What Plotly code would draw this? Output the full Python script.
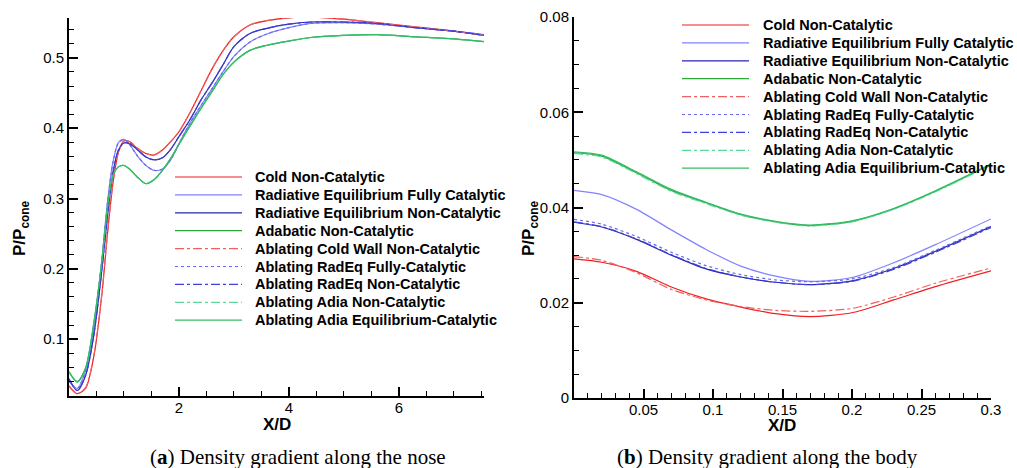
import plotly.graph_objects as go

W, H = 1017, 468

# ---------------- data: panel (a) nose ----------------
x_nose = [0, 0.15, 0.3, 0.45, 0.6, 0.7, 0.8, 0.9, 1.0, 1.1, 1.25, 1.4, 1.55, 1.7, 1.85,
          2.0, 2.2, 2.4, 2.6, 2.8, 3.0, 3.3, 3.6, 4.0, 4.4, 5.0, 5.6, 6.3, 7.0, 7.55]
cold_nose = [0.033, 0.0225, 0.030, 0.075, 0.165, 0.250, 0.322, 0.366, 0.382, 0.381, 0.371, 0.364,
             0.362, 0.369, 0.381, 0.395, 0.422, 0.453, 0.484, 0.510, 0.530, 0.547, 0.553, 0.557,
             0.558, 0.555, 0.550, 0.544, 0.538, 0.532]
radeq_fc_nose = [0.040, 0.030, 0.055, 0.115, 0.215, 0.295, 0.352, 0.380, 0.384, 0.377, 0.360,
                 0.347, 0.340, 0.342, 0.355, 0.378, 0.407, 0.432, 0.456, 0.480, 0.502, 0.523,
                 0.534, 0.543, 0.549, 0.550, 0.548, 0.543, 0.538, 0.533]
radeq_nc_nose = [0.043, 0.027, 0.048, 0.105, 0.200, 0.275, 0.337, 0.369, 0.379, 0.378, 0.369,
                 0.359, 0.355, 0.358, 0.370, 0.388, 0.412, 0.440, 0.464, 0.490, 0.516, 0.535,
                 0.542, 0.548, 0.551, 0.551, 0.549, 0.543, 0.538, 0.532]
adia_nose = [0.053, 0.039, 0.058, 0.122, 0.212, 0.288, 0.333, 0.345, 0.347, 0.342, 0.330, 0.321,
             0.327, 0.340, 0.357, 0.377, 0.403, 0.428, 0.452, 0.476, 0.494, 0.511, 0.518, 0.524,
             0.529, 0.532, 0.533, 0.530, 0.527, 0.523]
abl_cold_nose = [0.034, 0.023, 0.031, 0.076, 0.166, 0.251, 0.322, 0.366, 0.382, 0.381, 0.371,
                 0.364, 0.362, 0.369, 0.381, 0.395, 0.422, 0.453, 0.484, 0.510, 0.530, 0.547,
                 0.553, 0.557, 0.558, 0.555, 0.550, 0.544, 0.538, 0.532]
abl_radeq_fc_nose = [0.041, 0.030, 0.055, 0.115, 0.214, 0.294, 0.351, 0.379, 0.384, 0.377, 0.360,
                     0.347, 0.340, 0.342, 0.355, 0.378, 0.407, 0.432, 0.456, 0.480, 0.502, 0.523,
                     0.534, 0.543, 0.549, 0.550, 0.548, 0.543, 0.538, 0.533]
abl_radeq_nc_nose = [0.044, 0.027, 0.048, 0.105, 0.200, 0.275, 0.337, 0.369, 0.379, 0.378, 0.369,
                     0.359, 0.355, 0.358, 0.370, 0.388, 0.412, 0.440, 0.464, 0.490, 0.516, 0.535,
                     0.542, 0.548, 0.551, 0.551, 0.549, 0.543, 0.538, 0.532]
abl_adia_nc_nose = [0.053, 0.039, 0.058, 0.122, 0.212, 0.288, 0.333, 0.345, 0.347, 0.342, 0.330,
                    0.321, 0.327, 0.340, 0.357, 0.377, 0.403, 0.428, 0.452, 0.476, 0.494, 0.511,
                    0.518, 0.524, 0.529, 0.532, 0.533, 0.530, 0.527, 0.523]
abl_adia_eq_nose = [0.054, 0.040, 0.059, 0.122, 0.212, 0.288, 0.333, 0.345, 0.347, 0.342, 0.330,
                    0.321, 0.327, 0.340, 0.357, 0.377, 0.403, 0.428, 0.452, 0.476, 0.494, 0.511,
                    0.518, 0.524, 0.529, 0.532, 0.533, 0.530, 0.527, 0.523]

# ---------------- data: panel (b) body ----------------
x_body = [0, 0.02, 0.045, 0.07, 0.095, 0.12, 0.145, 0.17, 0.2, 0.23, 0.26, 0.3]
cold_body = [0.0292, 0.0285, 0.0266, 0.0233, 0.0208, 0.0191, 0.0177, 0.0171, 0.0179, 0.0206, 0.0234, 0.0267]
radeq_fc_body = [0.0436, 0.0427, 0.0396, 0.0353, 0.0312, 0.0277, 0.0256, 0.0245, 0.0253, 0.0284, 0.0322, 0.0376]
radeq_nc_body = [0.0369, 0.0359, 0.0333, 0.0300, 0.0271, 0.0254, 0.0243, 0.0238, 0.0246, 0.0272, 0.0308, 0.0360]
adia_body = [0.0515, 0.0508, 0.0473, 0.0436, 0.0410, 0.0385, 0.0370, 0.0362, 0.0371, 0.0397, 0.0434, 0.0490]
abl_cold_body = [0.0297, 0.0289, 0.0263, 0.0228, 0.0206, 0.0192, 0.0184, 0.0182, 0.0188, 0.0212, 0.0241, 0.0273]
abl_radeq_fc_body = [0.0375, 0.0365, 0.0339, 0.0306, 0.0278, 0.0259, 0.0248, 0.0244, 0.0250, 0.0274, 0.0310, 0.0362]
abl_radeq_nc_body = [0.0370, 0.0360, 0.0334, 0.0301, 0.0272, 0.0254, 0.0243, 0.0238, 0.0245, 0.0270, 0.0306, 0.0358]
abl_adia_nc_body = [0.0513, 0.0506, 0.0471, 0.0434, 0.0408, 0.0384, 0.0369, 0.0361, 0.0370, 0.0396, 0.0433, 0.0489]
abl_adia_eq_body = [0.0517, 0.0510, 0.0475, 0.0438, 0.0411, 0.0386, 0.0371, 0.0363, 0.0372, 0.0398, 0.0435, 0.0491]

names = ["Cold Non-Catalytic", "Radiative Equilibrium Fully Catalytic",
         "Radiative Equilibrium Non-Catalytic", "Adabatic Non-Catalytic",
         "Ablating Cold Wall Non-Catalytic", "Ablating RadEq Fully-Catalytic",
         "Ablating RadEq Non-Catalytic", "Ablating Adia Non-Catalytic",
         "Ablating Adia Equilibrium-Catalytic"]
colors = ["#f01e1e", "#8282ff", "#2626b0", "#2aa83a", "#f06060", "#6a6aee", "#4040d8", "#5ad898", "#35bb66"]
dashes = ["solid", "solid", "solid", "solid", "dashdot", "dot", "dashdot", "dashdot", "solid"]

nose_series = [cold_nose, radeq_fc_nose, radeq_nc_nose, adia_nose, abl_cold_nose,
               abl_radeq_fc_nose, abl_radeq_nc_nose, abl_adia_nc_nose, abl_adia_eq_nose]
body_series = [cold_body, radeq_fc_body, radeq_nc_body, adia_body, abl_cold_body,
               abl_radeq_fc_body, abl_radeq_nc_body, abl_adia_nc_body, abl_adia_eq_body]

fig = go.Figure()
for i, (n, ys) in enumerate(zip(names, nose_series)):
    fig.add_trace(go.Scatter(x=x_nose, y=ys, mode="lines", name=n, showlegend=False,
                             line=dict(color=colors[i], width=1.2, dash=dashes[i], shape="spline", smoothing=0.8),
                             xaxis="x", yaxis="y"))
for i, (n, ys) in enumerate(zip(names, body_series)):
    fig.add_trace(go.Scatter(x=x_body, y=ys, mode="lines", name=n, showlegend=False,
                             line=dict(color=colors[i], width=1.2, dash=dashes[i], shape="spline", smoothing=0.7),
                             xaxis="x2", yaxis="y2"))

def px_x(p):
    return p / W

def px_y(p):
    return (H - p) / H

tickfont = dict(family="Liberation Sans, Arial", size=15, color="black")
common = dict(showgrid=False, zeroline=False, showline=True, linecolor="black", linewidth=2,
              ticks="inside", ticklen=9, tickwidth=2, tickcolor="black", tickfont=tickfont,
              automargin=False)
minor_kw = dict(ticks="inside", ticklen=5, tickwidth=1, tickcolor="black")

fig.update_layout(
    width=W, height=H, margin=dict(l=0, r=0, t=0, b=0),
    paper_bgcolor="white", plot_bgcolor="white", showlegend=False,
    xaxis=dict(domain=[px_x(69), px_x(484)], range=[0, 7.55], tickvals=[2, 4, 6],
               minor=dict(dtick=0.5, tick0=0, **minor_kw), ticklabelstandoff=-3,
               anchor="y", **common),
    yaxis=dict(domain=[px_y(396), px_y(18)], range=[0.0192, 0.5567], tickvals=[0.1, 0.2, 0.3, 0.4, 0.5],
               minor=dict(dtick=0.02, tick0=0, **minor_kw),
               anchor="x", **common),
    xaxis2=dict(domain=[px_x(574), px_x(991)], range=[0, 0.3],
                tickvals=[0.05, 0.1, 0.15, 0.2, 0.25, 0.3],
                ticktext=["0.05", "0.1", "0.15", "0.2", "0.25", "0.3"],
                minor=dict(dtick=0.01, tick0=0, **minor_kw), ticklabelstandoff=-3,
                anchor="y2", **common),
    yaxis2=dict(domain=[px_y(398), px_y(17)], range=[0, 0.08],
                tickvals=[0, 0.02, 0.04, 0.06, 0.08], ticktext=["0", "0.02", "0.04", "0.06", "0.08"],
                minor=dict(dtick=0.005, tick0=0, **minor_kw),
                anchor="x2", **common),
)

annotations = []
shapes = []
titlefont = dict(family="Liberation Sans, Arial", size=17, color="black")
# axis titles
annotations.append(dict(text="<b>X/D</b>", x=px_x(277), y=px_y(424), xref="paper", yref="paper",
                        showarrow=False, font=titlefont, xanchor="center", yanchor="middle"))
annotations.append(dict(text="<b>X/D</b>", x=px_x(782), y=px_y(425), xref="paper", yref="paper",
                        showarrow=False, font=titlefont, xanchor="center", yanchor="middle"))
annotations.append(dict(text="<b>P/P<sub>cone</sub></b>", x=px_x(21), y=px_y(228), xref="paper", yref="paper",
                        showarrow=False, font=titlefont, textangle=-90, xanchor="center", yanchor="middle"))
annotations.append(dict(text="<b>P/P<sub>cone</sub></b>", x=px_x(530), y=px_y(228), xref="paper", yref="paper",
                        showarrow=False, font=titlefont, textangle=-90, xanchor="center", yanchor="middle"))
# captions
capfont = dict(family="Liberation Serif, Times New Roman", size=21, color="black")
annotations.append(dict(text="(<b>a</b>) Density gradient along the nose", x=px_x(298), y=px_y(457),
                        xref="paper", yref="paper", showarrow=False, font=capfont,
                        xanchor="center", yanchor="middle"))
annotations.append(dict(text="(<b>b</b>) Density gradient along the body", x=px_x(767), y=px_y(457),
                        xref="paper", yref="paper", showarrow=False, font=capfont,
                        xanchor="center", yanchor="middle"))

# legends (one per panel)
legfont = dict(family="Liberation Sans, Arial", size=14.5, color="black")
for (lx0, lx1, tx, ty0) in [(175, 242, 253, 177), (682, 749, 761, 25)]:
    for i, n in enumerate(names):
        yy = ty0 + i * 17.9
        shapes.append(dict(type="line", xref="paper", yref="paper", x0=px_x(lx0), x1=px_x(lx1),
                           y0=px_y(yy), y1=px_y(yy), line=dict(color=colors[i], width=1.2, dash=dashes[i])))
        annotations.append(dict(text="<b>" + n + "</b>", x=px_x(tx), y=px_y(yy), xref="paper", yref="paper",
                                showarrow=False, font=legfont, xanchor="left", yanchor="middle"))

fig.update_layout(annotations=annotations, shapes=shapes)
fig.write_html("out.html")
